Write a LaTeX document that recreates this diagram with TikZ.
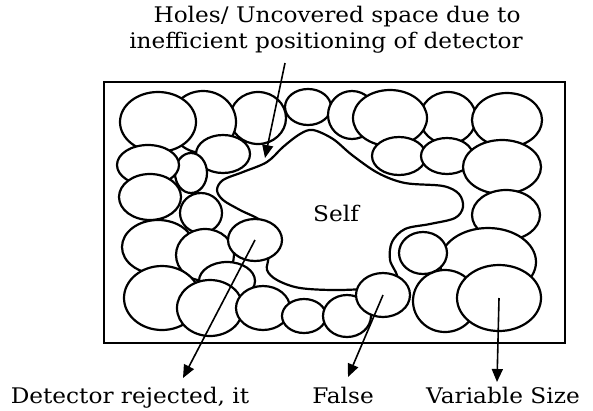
\documentclass[tikz,border=0pt]{standalone}
\usepackage{fontspec}
\setmainfont[FakeStretch=1.08]{DejaVu Serif}
\usetikzlibrary{shapes.geometric,arrows.meta}

\begin{document}
\begin{tikzpicture}[x=1pt,y=-1pt,>={Triangle[length=13pt,width=11pt]},
  det/.style={draw,ellipse,fill=white,line width=2.2pt,inner sep=0pt},
  lbl/.style={font=\fontsize{21.5}{26}\selectfont,inner sep=0pt,anchor=base}]
\useasboundingbox (0,0) rectangle (593,410);
\draw[line width=2.2pt] (104,82) rectangle (565,343);
% self region
\draw[line width=2.2pt] plot[smooth cycle,tension=0.55] coordinates {
  (313,130) (333,139) (352,155) (378,173) (405,183) (443,186) (459,194)
  (463,207) (455,218) (430,224) (405,229) (392,242) (390,260) (397,278)
  (380,287) (340,290) (300,288) (277,280) (267,270) (268,256) (258,238)
  (262,222) (240,210) (223,200) (217,190) (223,180) (243,172) (267,162)
  (283,147) (300,134)};
\node[lbl] (self) at (336,221) {Self};
% detectors
\foreach \n/\cx/\cy/\rx/\ry in {
  d3/258/118/28/26, d2/203/122/33/31, d1/158/122/38/30, d4/308/107/23/18,
  d5/223/154/27/19, d7/191/173/16/20, d6/148/165/31/20, d9/201/213/21/20,
  d8/150/197/31/23, d10/158/247/36/27, d11/205/255/29/26, d14/227/281/28/19,
  d13/162/298/38/32, d15/210/308/33/28, d16/263/308/27/22, d17/304/316/22/17,
  d18/347/316/24/21, d19/352/115/24/24, d21/448/118/28/26, d20/390/118/37/28,
  d22/507/120/35/27, d23/399/156/27/19, d24/447/156/26/18, d25/502/167/39/27,
  d26/506/215/34/25, d27/488/262/48/34, d28/445/301/32/31, d29/423/253/24/21,
  big/499/298/42/33, rej/255/240/27/21, fls/383/295/27/22}
  \node[det,minimum width=2*\rx,minimum height=2*\ry] (\n) at (\cx,\cy) {};
% labels
\node[lbl] (holes1) at (337,22) {Holes/ Uncovered space due to};
\node[lbl] (holes2) at (326,48) {inefficient positioning of detector};
\node[lbl] (rejlbl) at (130,403) {Detector rejected, it};
\node[lbl] (flslbl) at (343,403) {False};
\node[lbl] (biglbl) at (503,403) {Variable Size};
\coordinate (holetail) at (285,63);
\coordinate (holetip) at (265,158);
\coordinate (rejtip) at (183,378);
\coordinate (flstip) at (348,377);
\coordinate (bigtip) at (497,382);
\draw[->,line width=1.6pt] (holetail) -- (holetip);
\draw[->,line width=1.6pt] (rej.center) -- (rejtip);
\draw[->,line width=1.6pt] (fls.center) -- (flstip);
\draw[->,line width=1.6pt] (big.center) -- (bigtip);
\end{tikzpicture}
\end{document}
